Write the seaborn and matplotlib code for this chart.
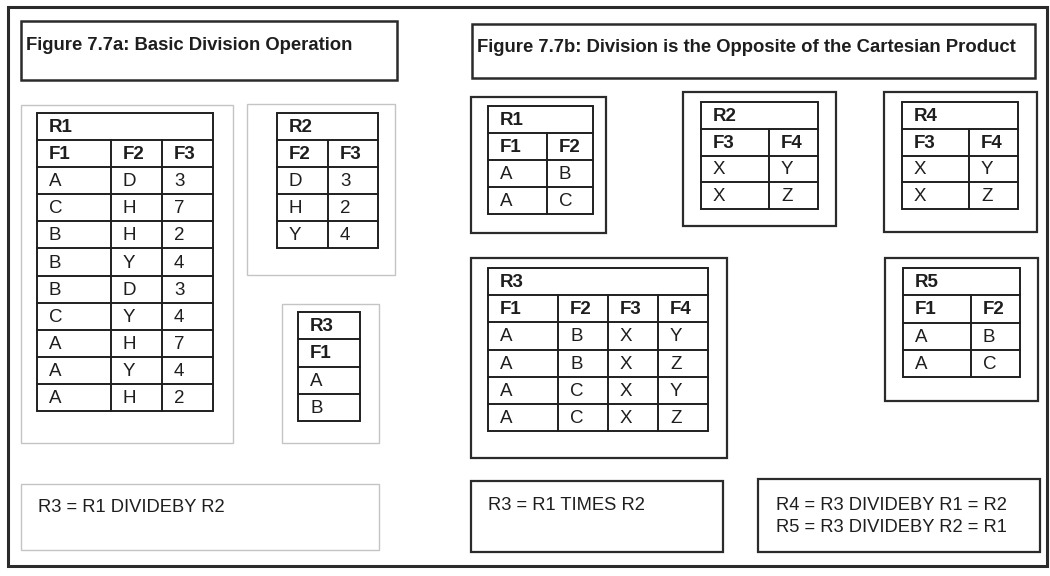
import matplotlib
matplotlib.use('Agg')
import matplotlib.pyplot as plt
import seaborn as sns
from matplotlib.patches import Rectangle

# -- Data ----------------------------------------------------------------------
title_a = 'Figure 7.7a: Basic Division Operation'
title_b = 'Figure 7.7b: Division is the Opposite of the Cartesian Product'

r1a_name, r1a_head = 'R1', ['F1', 'F2', 'F3']
r1a_rows = [['A', 'D', '3'], ['C', 'H', '7'], ['B', 'H', '2'], ['B', 'Y', '4'],
            ['B', 'D', '3'], ['C', 'Y', '4'], ['A', 'H', '7'], ['A', 'Y', '4'],
            ['A', 'H', '2']]
r2a_name, r2a_head = 'R2', ['F2', 'F3']
r2a_rows = [['D', '3'], ['H', '2'], ['Y', '4']]
r3a_name, r3a_head = 'R3', ['F1']
r3a_rows = [['A'], ['B']]

r1b_name, r1b_head = 'R1', ['F1', 'F2']
r1b_rows = [['A', 'B'], ['A', 'C']]
r2b_name, r2b_head = 'R2', ['F3', 'F4']
r2b_rows = [['X', 'Y'], ['X', 'Z']]
r4b_name, r4b_head = 'R4', ['F3', 'F4']
r4b_rows = [['X', 'Y'], ['X', 'Z']]
r3b_name, r3b_head = 'R3', ['F1', 'F2', 'F3', 'F4']
r3b_rows = [['A', 'B', 'X', 'Y'], ['A', 'B', 'X', 'Z'],
            ['A', 'C', 'X', 'Y'], ['A', 'C', 'X', 'Z']]
r5b_name, r5b_head = 'R5', ['F1', 'F2']
r5b_rows = [['A', 'B'], ['A', 'C']]

formula_a = ['R3 = R1 DIVIDEBY R2']
formula_times = ['R3 = R1 TIMES R2']
formula_div = ['R4 = R3 DIVIDEBY R1 = R2', 'R5 = R3 DIVIDEBY R2 = R1']

# -- Style ---------------------------------------------------------------------
sns.set_theme(style='white')
plt.rcParams['font.family'] = ['Liberation Sans', 'DejaVu Sans']

DARK = '#2b2b2b'
LIGHT = '#c4c4c4'
TXT = '#1e1e1e'
LINE = '#1f1f1f'

fig = plt.figure(figsize=(10.5, 5.76), dpi=100)
ax = fig.add_axes([0, 0, 1, 1])
ax.set_xlim(0, 1050)
ax.set_ylim(576, 0)
ax.axis('off')


def box(x0, y0, x1, y1, color=DARK, lw=1.6):
    ax.add_patch(Rectangle((x0, y0), x1 - x0, y1 - y0, fill=False,
                           edgecolor=color, linewidth=lw))


def table(cols, top, bottom, name, head, rows, fs=13.5):
    n = len(rows) + 2
    h = (bottom - top) / n
    lw = 1.4
    # frame, row lines, column lines (title row spans all columns)
    box(cols[0], top, cols[-1], bottom, color=LINE, lw=lw)
    for i in range(1, n):
        ax.plot([cols[0], cols[-1]], [top + i * h] * 2, color=LINE, lw=lw)
    for c in cols[1:-1]:
        ax.plot([c, c], [top + h, bottom], color=LINE, lw=lw)
    ax.text(cols[0] + 12, top + h / 2 + 1, name, fontsize=fs, fontweight='bold',
            color=TXT, ha='left', va='center')
    for j, lab in enumerate(head):
        ax.text(cols[j] + 12, top + 1.5 * h + 1, lab, fontsize=fs, fontweight='bold',
                color=TXT, ha='left', va='center')
    for i, row in enumerate(rows):
        for j, val in enumerate(row):
            ax.text(cols[j] + 12, top + (i + 2.5) * h + 1, val, fontsize=fs,
                    color=TXT, ha='left', va='center')


def lines(x, ys, texts, fs=13.2):
    for y, t in zip(ys, texts):
        ax.text(x, y, t, fontsize=fs, color=TXT, ha='left', va='center')


# outer frame
box(8, 7, 1047, 566, lw=2.2)

# -- Figure 7.7a ---------------------------------------------------------------
box(21, 21, 397, 80, lw=1.8)
ax.text(26, 45, title_a, fontsize=13.3, fontweight='bold', color=TXT,
        ha='left', va='center')
box(21, 105, 233, 443, color=LIGHT, lw=1.0)
box(247, 104, 395, 275, color=LIGHT, lw=1.0)
box(282, 304, 379, 443, color=LIGHT, lw=1.0)
box(21, 484, 379, 550, color=LIGHT, lw=1.0)

table([37, 111, 162, 213], 113, 411, r1a_name, r1a_head, r1a_rows)
table([277, 328, 378], 113, 248, r2a_name, r2a_head, r2a_rows)
table([298, 360], 312, 421, r3a_name, r3a_head, r3a_rows)
lines(38, [507], formula_a)

# -- Figure 7.7b ---------------------------------------------------------------
box(472, 24, 1035, 78, lw=1.8)
ax.text(477, 47, title_b, fontsize=13.3, fontweight='bold', color=TXT,
        ha='left', va='center')
box(471, 97, 606, 233)
box(683, 92, 836, 226)
box(884, 92, 1037, 232)
box(471, 258, 727, 458)
box(885, 258, 1038, 401)
box(471, 481, 723, 552)
box(758, 479, 1040, 552)

table([488, 547, 593], 106, 214, r1b_name, r1b_head, r1b_rows)
table([701, 769, 818], 102, 209, r2b_name, r2b_head, r2b_rows)
table([902, 969, 1018], 102, 209, r4b_name, r4b_head, r4b_rows)
table([488, 558, 608, 658, 708], 268, 431, r3b_name, r3b_head, r3b_rows)
table([903, 971, 1020], 268, 377, r5b_name, r5b_head, r5b_rows)
lines(488, [505], formula_times)
lines(776, [505, 528], formula_div)

fig.savefig('out.png', dpi=100, facecolor='white')
